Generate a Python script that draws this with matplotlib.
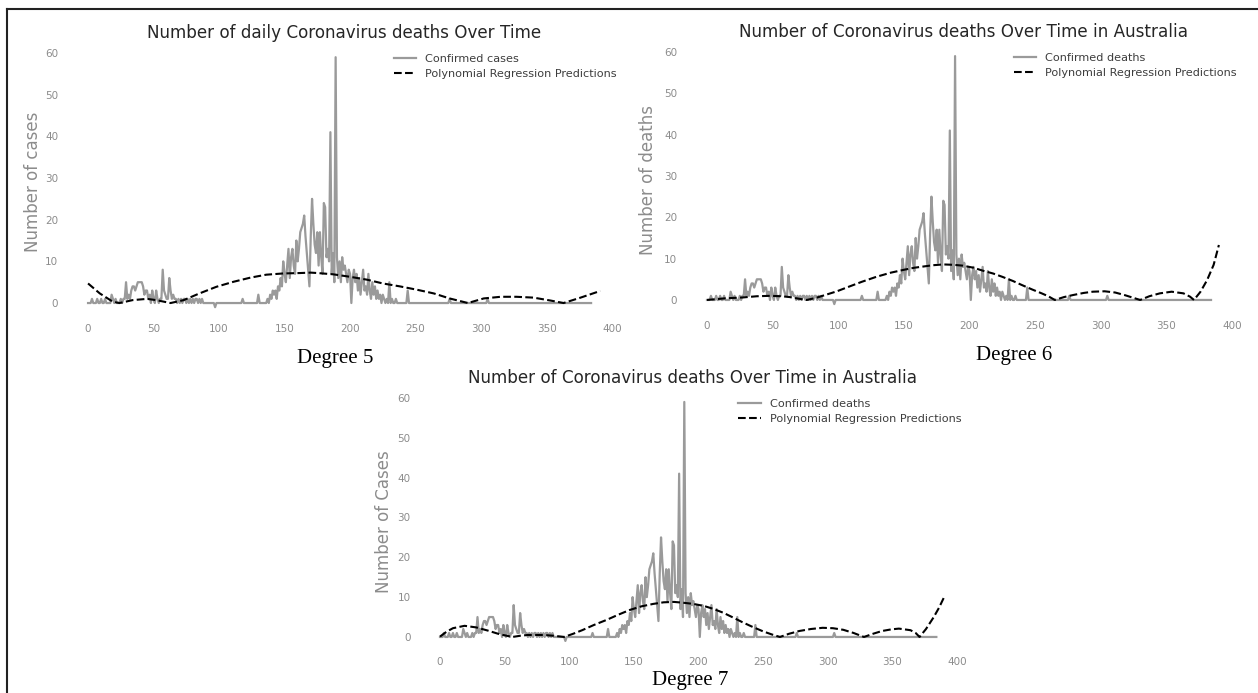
import matplotlib
matplotlib.use("Agg")
import matplotlib.pyplot as plt
from matplotlib.lines import Line2D

# Daily reported deaths, day 0 .. day 384
deaths = [
    0, 0, 0, 1, 0, 0, 0, 1, 0, 0, 1, 0, 0, 1, 0, 0, 0, 0, 2, 1,          # 0-19
    0, 1, 0, 0, 0, 1, 0, 1, 1, 5, 1, 2, 1, 3, 4, 4, 3, 4, 5, 5,          # 20-39
    5, 5, 4, 2, 3, 3, 1, 2, 0, 3, 1, 0, 3, 1, 0, 1, 1, 8, 3, 2,          # 40-59
    1, 1, 6, 3, 1, 2, 1, 1, 0, 1, 0, 1, 0, 1, 1, 0, 1, 0, 1, 0,          # 60-79
    1, 0, 1, 1, 0, 1, 0, 1, 0, 0, 0, 0, 0, 0, 0, 0, 0, -1, 0, 0,         # 80-99
    0, 0, 0, 0, 0, 0, 0, 0, 0, 0, 0, 0, 0, 0, 0, 0, 0, 0, 1, 0,          # 100-119
    0, 0, 0, 0, 0, 0, 0, 0, 0, 0, 2, 0, 0, 0, 0, 0, 0, 1, 0, 2,          # 120-139
    1, 3, 2, 3, 1, 4, 3, 6, 4, 10, 7, 5, 9, 13, 6, 11, 13, 9, 7, 15,     # 140-159
    10, 13, 17, 18, 19, 21, 16, 12, 8, 4, 16, 25, 19, 14, 12, 17, 9, 17, 11, 7,   # 160-179
    24, 23, 11, 13, 10, 41, 7, 12, 5, 59, 11, 6, 10, 5, 11, 8, 9, 7, 5, 8,        # 180-199
    7, 0, 6, 8, 5, 7, 3, 6, 2, 5, 8, 3, 4, 2, 7, 3, 1, 5, 2, 4,          # 200-219
    1, 3, 1, 2, 0, 2, 1, 0, 1, 0, 5, 0, 1, 0, 0, 1, 0, 0, 0, 0,          # 220-239
    0, 0, 0, 0, 3, 0, 0, 0, 0, 0, 0, 0, 0, 0, 0, 0, 0, 0, 0, 0,          # 240-259
    0, 0, 0, 0, 0, 0, 0, 0, 0, 0, 0, 0, 0, 0, 0, 0, 1, 0, 0, 0,          # 260-279
    0, 0, 0, 0, 0, 0, 0, 0, 0, 0, 0, 0, 0, 0, 0, 0, 0, 0, 0, 0,          # 280-299
    0, 0, 0, 0, 0, 1, 0, 0, 0, 0, 0, 0, 0, 0, 0, 0, 0, 0, 0, 0,          # 300-319
    0, 0, 0, 0, 0, 0, 0, 0, 0, 0, 0, 0, 0, 0, 0, 0, 0, 0, 0, 0,          # 320-339
    0, 0, 0, 0, 0, 0, 0, 0, 0, 0, 0, 0, 0, 0, 0, 0, 0, 0, 0, 0,          # 340-359
    0, 0, 0, 0, 0, 0, 0, 0, 0, 0, 0, 0, 0, 0, 0, 0, 0, 0, 0, 0,          # 360-379
    0, 0, 0, 0, 0,                                                       # 380-384
]
days = list(range(len(deaths)))

# Polynomial regression predictions (magnitude), sampled at the listed days
deg5_days = [0, 9, 19, 24, 34, 45, 52, 63, 73, 85, 98, 111, 124, 136, 149, 162, 170,
             175, 187, 200, 213, 225, 238, 251, 264, 276, 290, 302, 315, 327, 340,
             353, 363, 376, 391]
deg5_pred = [4.7, 2.3, 0.3, 0.0, 0.7, 1.0, 0.7, 0.0, 0.7, 2.3, 3.9, 5.1, 6.1, 6.8, 7.1,
             7.2, 7.3, 7.2, 6.9, 6.3, 5.6, 4.7, 4.0, 3.2, 2.3, 1.1, 0.0, 1.1, 1.5, 1.5,
             1.3, 0.6, 0.0, 1.3, 2.9]

deg6_days = [0, 14, 27, 38, 48, 57, 63, 70, 76, 83, 90, 99, 108, 118, 129, 140, 150,
             158, 165, 172, 180, 188, 195, 203, 210, 218, 225, 233, 240, 248, 255,
             260, 265, 272, 279, 287, 294, 303, 311, 318, 325, 330, 337, 345, 354,
             363, 368, 371, 376, 381, 386, 390]
deg6_pred = [0.0, 0.4, 0.6, 0.9, 1.0, 0.9, 0.7, 0.3, 0.0, 0.5, 1.2, 2.1, 3.2, 4.4, 5.6,
             6.6, 7.3, 7.8, 8.1, 8.4, 8.6, 8.5, 8.3, 7.8, 7.1, 6.4, 5.6, 4.6, 3.6, 2.5,
             1.6, 0.9, 0.0, 0.7, 1.2, 1.7, 2.0, 2.1, 1.8, 1.2, 0.5, 0.0, 0.9, 1.6, 2.0,
             1.6, 0.8, 0.0, 2.0, 4.8, 8.5, 13.3]

deg7_days = [0, 5, 10, 19, 28, 37, 46, 56, 62, 68, 80, 88, 96, 103, 110, 119, 129,
             138, 147, 156, 165, 173, 181, 188, 196, 204, 211, 219, 226, 234, 242,
             250, 257, 263, 270, 278, 287, 296, 304, 312, 320, 328, 335, 342, 349,
             355, 364, 368, 371, 376, 382, 386, 390]
deg7_pred = [0.1, 1.3, 2.2, 2.8, 2.4, 1.6, 0.7, 0.0, 0.3, 0.5, 0.5, 0.3, 0.0, 0.8, 1.7,
             3.0, 4.3, 5.6, 6.8, 7.7, 8.3, 8.7, 8.8, 8.6, 8.3, 7.8, 7.1, 6.1, 5.0, 3.7,
             2.5, 1.4, 0.6, 0.0, 0.8, 1.5, 2.0, 2.3, 2.2, 1.8, 1.0, 0.0, 0.8, 1.5, 1.9,
             2.1, 1.7, 1.0, 0.0, 2.0, 5.0, 7.3, 10.0]

W, H = 1258, 693
fig = plt.figure(figsize=(W / 100, H / 100), dpi=100)
fig.patch.set_facecolor("white")

GRAY_LINE = "#9a9a9a"
GRAY_TEXT = "#8c8c8c"
TITLE_COL = "#262626"
LEGEND_COL = "#3d3d3d"


def px_rect(left, top, right, bottom):
    return [left / W, 1 - bottom / H, (right - left) / W, (bottom - top) / H]


panels = [
    dict(rect=px_rect(62.5, 44.7, 625.8, 319.7),
         title="Number of daily Coronavirus deaths Over Time",
         ylabel="Number of cases", label="Confirmed cases",
         pdays=deg5_days, pred=deg5_pred, ylab_x=-0.036),
    dict(rect=px_rect(681.4, 43.7, 1245.8, 316.5),
         title="Number of Coronavirus deaths Over Time in Australia",
         ylabel="Number of deaths", label="Confirmed deaths",
         pdays=deg6_days, pred=deg6_pred, ylab_x=-0.044),
    dict(rect=px_rect(414.8, 390.0, 970.6, 652.9),
         title="Number of Coronavirus deaths Over Time in Australia",
         ylabel="Number of Cases", label="Confirmed deaths",
         pdays=deg7_days, pred=deg7_pred, ylab_x=-0.040),
]

for p in panels:
    ax = fig.add_axes(p["rect"])
    ax.set_facecolor("white")
    ax.plot(days, deaths, color=GRAY_LINE, lw=1.6, label=p["label"])
    ax.plot(p["pdays"], p["pred"], color="black", lw=1.5, ls="--",
            label="Polynomial Regression Predictions")
    ax.set_xlim(-19.5, 410.5)
    ax.set_ylim(-4, 62)
    ax.set_xticks(range(0, 401, 50))
    ax.set_yticks(range(0, 61, 10))
    for s in ax.spines.values():
        s.set_visible(False)
    ax.tick_params(axis="both", length=0, labelsize=7.5, labelcolor=GRAY_TEXT)
    ax.tick_params(axis="x", pad=3)
    ax.tick_params(axis="y", pad=3)
    ax.set_title(p["title"], fontsize=12.1, color=TITLE_COL, pad=5)
    ax.set_ylabel(p["ylabel"], fontsize=12, color=GRAY_TEXT)
    ax.yaxis.set_label_coords(p["ylab_x"], 0.5)
    leg = ax.legend(loc="upper right", frameon=False, fontsize=8.1,
                    borderaxespad=0.4, handlelength=2.0, labelspacing=0.45)
    for t in leg.get_texts():
        t.set_color(LEGEND_COL)

# Captions under each panel
serif = "Liberation Serif"
fig.text(335 / W, 1 - 359 / H, "Degree 5", family=serif, fontsize=15,
         ha="center", va="center", color="black")
fig.text(1014 / W, 1 - 355 / H, "Degree 6", family=serif, fontsize=15,
         ha="center", va="center", color="black")
fig.text(690 / W, 1 - 680 / H, "Degree 7", family=serif, fontsize=15,
         ha="center", va="center", color="black")

# Frame lines along the left and top edges
fig.add_artist(Line2D([7 / W, 7 / W], [0, 1 - 9 / H], transform=fig.transFigure,
                      color="#222222", lw=1.5))
fig.add_artist(Line2D([7 / W, 1], [1 - 9 / H, 1 - 9 / H], transform=fig.transFigure,
                      color="#222222", lw=1.5))

fig.savefig("out.png", dpi=100, facecolor="white")
